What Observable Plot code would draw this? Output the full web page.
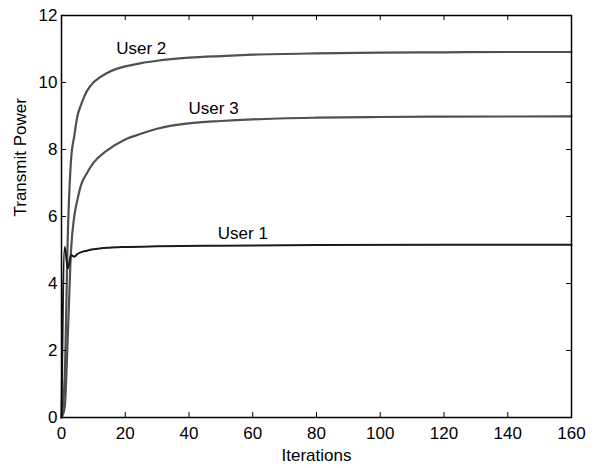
<!DOCTYPE html>
<html>
<head>
<meta charset="utf-8">
<script src="https://cdn.jsdelivr.net/npm/d3@7"></script>
<script src="https://cdn.jsdelivr.net/npm/@observablehq/plot@0.6"></script>
<style>
  html, body { margin: 0; padding: 0; background: #fff; }
  #chart svg { display: block; }
</style>
</head>
<body>
<div id="chart"></div>
<script>
// Data
const user1Iter = [0, 1, 2, 3, 4, 5, 6, 8, 10, 15, 20, 30, 50, 80, 120, 160];
const user1Power = [0, 5.1, 4.45, 4.85, 4.8, 4.88, 4.93, 4.98, 5.02, 5.07, 5.09, 5.11, 5.13, 5.15, 5.16, 5.16];

const user2Iter = [0, 1, 2, 3, 4, 5, 6, 7, 8, 10, 12, 14, 17, 20, 25, 30, 40, 50, 60, 80, 100, 120, 140, 160];
const user2Power = [0, 1.2, 5.5, 7.7, 8.4, 9.0, 9.3, 9.55, 9.75, 10.0, 10.15, 10.27, 10.4, 10.48, 10.58, 10.65, 10.74, 10.79, 10.83, 10.87, 10.89, 10.9, 10.91, 10.91];

const user3Iter = [0, 1, 2, 3, 4, 5, 6, 8, 10, 14, 20, 25, 30, 40, 50, 60, 80, 100, 120, 160];
const user3Power = [0, 0.3, 2.5, 5.0, 6.0, 6.5, 6.9, 7.3, 7.6, 7.95, 8.3, 8.47, 8.62, 8.78, 8.85, 8.9, 8.95, 8.97, 8.98, 8.99];

const labelNames = ["User 2", "User 3", "User 1"];
const labelIter = [25, 47.7, 56.9];
const labelPower = [10.84, 9.07, 5.34];

const xTicks = [0, 20, 40, 60, 80, 100, 120, 140, 160];
const yTicks = [0, 2, 4, 6, 8, 10, 12];

const toRows = (xs, ys) => xs.map((x, i) => ({x, y: ys[i]}));
const s1 = toRows(user1Iter, user1Power);
const s2 = toRows(user2Iter, user2Power);
const s3 = toRows(user3Iter, user3Power);
const labels = labelNames.map((t, i) => ({t, x: labelIter[i], y: labelPower[i]}));

const W = 596, H = 468;
const mL = 61, mR = 25, mT = 15, mB = 51;
const pw = W - mL - mR, ph = H - mT - mB;
const tick = 5;
const font = "'Liberation Sans', Arial, Helvetica, sans-serif";

const chart = Plot.plot({
  width: W,
  height: H,
  marginLeft: mL,
  marginRight: mR,
  marginTop: mT,
  marginBottom: mB,
  style: {fontFamily: font, fontSize: "17px", color: "#000", background: "#fff"},
  x: {domain: [0, 160]},
  y: {domain: [0, 12]},
  marks: [
    Plot.line(s2, {x: "x", y: "y", stroke: "#505050", strokeWidth: 2.2, curve: "monotone-x"}),
    Plot.line(s3, {x: "x", y: "y", stroke: "#505050", strokeWidth: 2.2, curve: "monotone-x"}),
    Plot.line(s1, {x: "x", y: "y", stroke: "#1a1a1a", strokeWidth: 2, curve: "monotone-x"}),
    // inward ticks on all four sides
    Plot.tickX(xTicks, {x: d => d, insetTop: ph - tick, stroke: "#000", strokeWidth: 1}),
    Plot.tickX(xTicks, {x: d => d, insetBottom: ph - tick, stroke: "#000", strokeWidth: 1}),
    Plot.tickY(yTicks, {y: d => d, insetRight: pw - tick, stroke: "#000", strokeWidth: 1}),
    Plot.tickY(yTicks, {y: d => d, insetLeft: pw - tick, stroke: "#000", strokeWidth: 1}),
    Plot.frame({stroke: "#000", strokeWidth: 1.5}),
    Plot.axisX(xTicks, {anchor: "bottom", tickSize: 0, tickPadding: 9, label: null, fontSize: 17}),
    Plot.axisY(yTicks, {anchor: "left", tickSize: 0, tickPadding: 4, label: null, fontSize: 17}),
    Plot.text(["Iterations"], {frameAnchor: "bottom", dy: 43, fontSize: 17, fill: "#000"}),
    Plot.text(["Transmit Power"], {frameAnchor: "left", dx: -41, rotate: -90, fontSize: 17, fill: "#000"}),
    Plot.text(labels, {x: "x", y: "y", text: "t", lineAnchor: "bottom", fontSize: 17, fill: "#000"})
  ]
});

document.getElementById("chart").appendChild(chart);
</script>
</body>
</html>
